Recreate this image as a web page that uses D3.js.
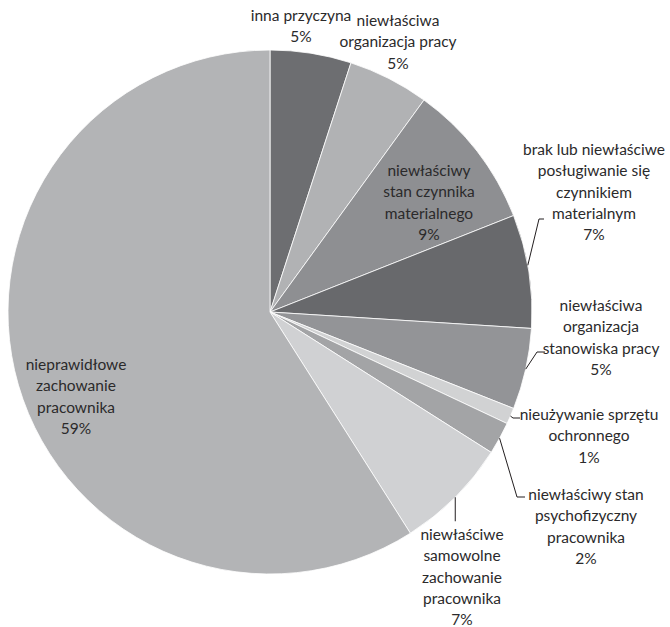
<!DOCTYPE html>
<html>
<head>
<meta charset="utf-8">
<script src="https://cdn.jsdelivr.net/npm/d3@7"></script>
<style>
  body { margin: 0; background: #fff; }
  text { font-family: Lato, "Open Sans", sans-serif; font-size: 15.5px; fill: #2b2a2b; }
</style>
</head>
<body>
<script>
var width = 670, height = 627;
var cx = 270, cy = 312, radius = 262;

// causes, clockwise from 12 o'clock
var labels = [
  ["inna przyczyna"],
  ["niewłaściwa", "organizacja pracy"],
  ["niewłaściwy", "stan czynnika", "materialnego"],
  ["brak lub niewłaściwe", "posługiwanie się", "czynnikiem", "materialnym"],
  ["niewłaściwa", "organizacja", "stanowiska pracy"],
  ["nieużywanie sprzętu", "ochronnego"],
  ["niewłaściwy stan", "psychofizyczny", "pracownika"],
  ["niewłaściwe", "samowolne", "zachowanie", "pracownika"],
  ["nieprawidłowe", "zachowanie", "pracownika"]
];
var values = [5, 5, 9, 7, 5, 1, 2, 7, 59];
var colors = ["#6d6e71", "#b1b2b4", "#8e8f92", "#68696c", "#939497",
              "#d1d2d3", "#a3a4a6", "#d0d1d3", "#b3b4b6"];

// label block anchor (centre x, first line y) - layout only
var labelPos = [
  [301, 21], [398, 26], [429, 176], [594, 155], [601, 311],
  [589, 420], [586, 500], [462, 540], [76, 370]
];

var svg = d3.select("body").append("svg")
  .attr("width", width)
  .attr("height", height);

var g = svg.append("g")
  .attr("transform", "translate(" + cx + "," + cy + ")");

var pie = d3.pie().sort(null).value(function(d) { return d; });
var arc = d3.arc().innerRadius(0).outerRadius(radius);

var arcs = pie(values);

g.selectAll("path")
  .data(arcs)
  .enter().append("path")
    .attr("d", arc)
    .attr("fill", function(d, i) { return colors[i]; })
    .attr("stroke", "#fff")
    .attr("stroke-width", 0.8);

// leader lines for the labels sitting outside on the right
function edgePoint(d, t) {
  var a = d.startAngle + (d.endAngle - d.startAngle) * t;
  return [cx + radius * Math.sin(a), cy - radius * Math.cos(a)];
}
var leaders = [
  {i: 3, t: 0.45, knee: [539, 219], end: [544, 219]},
  {i: 4, t: 0.5, knee: [537, 352], end: [545, 352]},
  {i: 5, t: 0.5, knee: [513, 418], end: [520, 418]},
  {i: 6, t: 0.5, knee: [517, 497], end: [525, 497]}
];
leaders.forEach(function(l) {
  var p = edgePoint(arcs[l.i], l.t);
  svg.append("path")
    .attr("d", d3.line()([p, l.knee, l.end]))
    .attr("fill", "none")
    .attr("stroke", "#231f20")
    .attr("stroke-width", 1);
});
// vertical leader for the 7% lower slice
var pv = edgePoint(arcs[7], 0.5);
svg.append("line")
  .attr("x1", pv[0]).attr("y1", pv[1])
  .attr("x2", pv[0]).attr("y2", pv[1] + 24)
  .attr("stroke", "#231f20").attr("stroke-width", 1);

var lineH = 21.3;
labels.forEach(function(lines, i) {
  var t = svg.append("text")
    .attr("text-anchor", "middle")
    .attr("x", labelPos[i][0])
    .attr("y", labelPos[i][1]);
  lines.concat([values[i] + "%"]).forEach(function(s, k) {
    t.append("tspan")
      .attr("x", labelPos[i][0])
      .attr("dy", k === 0 ? 0 : lineH)
      .text(s);
  });
});
</script>
</body>
</html>
